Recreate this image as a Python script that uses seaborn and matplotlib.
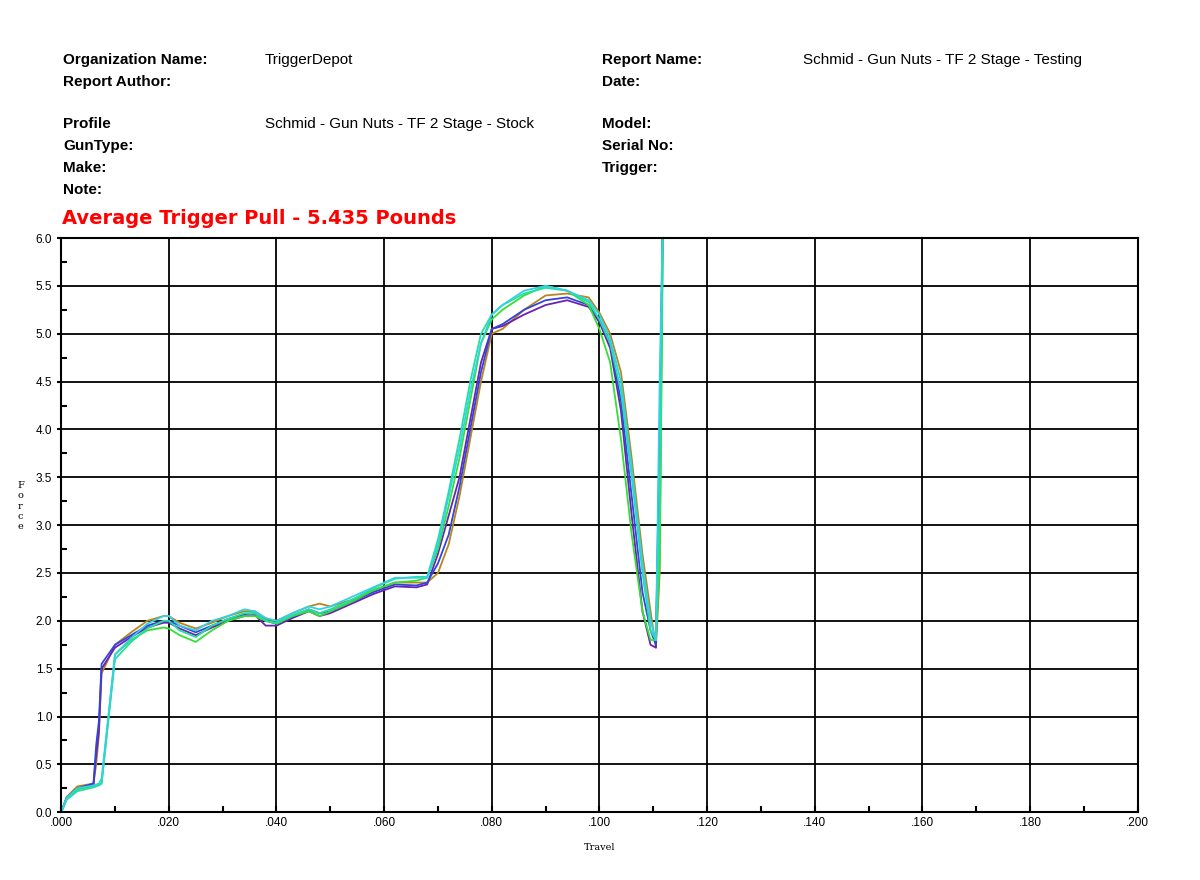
import numpy as np
import pandas as pd
import matplotlib.pyplot as plt
from matplotlib.ticker import MultipleLocator, FuncFormatter
import seaborn as sns

# shared travel grid (inches)
travel = [0, .001, .003, .006, .0065, .007, .0075, .010, .013, .016,
          .019, .020, .022, .025, .028, .031, .034, .036, .038, .040,
          .043, .046, .048, .050, .054, .058, .062, .066, .068, .070,
          .072, .074, .076, .078, .080, .082, .086, .090, .094, .098,
          .100, .102, .104, .106, .108, .1095, .1105, .1112, .1118]

pull_blue = [0, .15, .25, .3, .7, .95, 1.55, 1.75, 1.85, 1.95, 2.0, 2.0, 1.95, 1.88, 1.95, 2.02, 2.07, 2.08, 2.0, 1.97,
             2.05, 2.12, 2.08, 2.1, 2.2, 2.3, 2.38, 2.37, 2.4, 2.6, 2.9, 3.4, 4.0, 4.6, 5.05, 5.1, 5.25, 5.35, 5.38, 5.3,
             5.15, 4.9, 4.3, 3.3, 2.3, 1.9, 1.75, 4.0, 6.3]
pull_purple = [0, .14, .24, .29, .6, .85, 1.5, 1.72, 1.83, 1.93, 1.98, 1.98, 1.92, 1.85, 1.93, 2.0, 2.05, 2.06, 1.95, 1.95,
               2.03, 2.1, 2.05, 2.08, 2.18, 2.28, 2.36, 2.35, 2.38, 2.7, 3.1, 3.5, 4.1, 4.7, 5.05, 5.08, 5.2, 5.3, 5.35, 5.28,
               5.12, 4.85, 4.2, 3.1, 2.1, 1.75, 1.72, 3.8, 6.3]
pull_brown = [0, .16, .27, .3, .5, .8, 1.45, 1.75, 1.88, 2.0, 2.05, 2.05, 1.98, 1.92, 1.98, 2.05, 2.1, 2.1, 2.02, 2.0,
              2.08, 2.15, 2.18, 2.15, 2.22, 2.32, 2.4, 2.4, 2.4, 2.5, 2.8, 3.3, 3.9, 4.5, 5.0, 5.05, 5.25, 5.4, 5.42, 5.38,
              5.22, 5.0, 4.6, 3.7, 2.7, 2.1, 1.72, 2.5, 6.3]
pull_green = [0, .14, .24, .27, .28, .29, .3, 1.65, 1.8, 1.9, 1.93, 1.92, 1.85, 1.78, 1.9, 2.0, 2.05, 2.05, 2.0, 1.97,
              2.05, 2.1, 2.05, 2.1, 2.2, 2.32, 2.4, 2.42, 2.45, 2.75, 3.2, 3.7, 4.3, 4.9, 5.15, 5.25, 5.4, 5.5, 5.45, 5.3,
              5.05, 4.7, 3.9, 2.9, 2.1, 1.8, 1.8, 2.6, 6.0]
pull_cyan = [0, .15, .25, .28, .29, .3, .35, 1.65, 1.82, 1.97, 2.05, 2.05, 1.95, 1.9, 2.0, 2.05, 2.12, 2.1, 2.03, 2.0,
             2.08, 2.15, 2.12, 2.15, 2.25, 2.35, 2.45, 2.45, 2.45, 2.8, 3.3, 3.8, 4.4, 4.9, 5.2, 5.3, 5.45, 5.5, 5.45, 5.35,
             5.2, 4.95, 4.5, 3.6, 2.6, 2.0, 1.8, 4.5, 6.3]
pull_teal = [0, .13, .22, .26, .27, .28, .3, 1.6, 1.78, 1.92, 2.0, 2.0, 1.9, 1.83, 1.95, 2.02, 2.08, 2.08, 2.0, 1.98,
             2.06, 2.12, 2.08, 2.12, 2.22, 2.34, 2.44, 2.46, 2.46, 2.85, 3.35, 3.9, 4.5, 5.0, 5.2, 5.3, 5.42, 5.48, 5.45, 5.33,
             5.15, 4.9, 4.4, 3.5, 2.5, 1.9, 1.8, 3.2, 6.2]

pulls = {'brown': pull_brown, 'purple': pull_purple, 'blue': pull_blue,
         'green': pull_green, 'teal': pull_teal, 'cyan': pull_cyan}
colors = {'brown': '#b8861b', 'purple': '#6a22b0', 'blue': '#3344dd',
          'green': '#33e033', 'teal': '#22e0a0', 'cyan': '#33d0e8'}

df = pd.concat([pd.DataFrame({'travel': travel, 'force': v, 'pull': k}) for k, v in pulls.items()],
               ignore_index=True)

fig = plt.figure(figsize=(12, 8.8), dpi=100)
ax = fig.add_axes([0.051, 0.077, 0.897, 0.6525])
sns.lineplot(data=df, x='travel', y='force', hue='pull', palette=colors, sort=False,
             estimator=None, lw=1.3, legend=False, ax=ax)

ax.set_xlim(0, 0.2)
ax.set_ylim(0, 6)
ax.xaxis.set_major_locator(MultipleLocator(0.02))
ax.xaxis.set_minor_locator(MultipleLocator(0.01))
ax.yaxis.set_major_locator(MultipleLocator(0.5))
ax.yaxis.set_minor_locator(MultipleLocator(0.25))
ax.xaxis.set_major_formatter(FuncFormatter(lambda v, p: f'{v:.3f}'.lstrip('0')))
ax.yaxis.set_major_formatter(FuncFormatter(lambda v, p: f'{v:.1f}'))
ax.grid(True, which='major', color='black', lw=1.3)
ax.tick_params(which='both', direction='in', labelsize=8.5, length=4, width=1.5)
ax.tick_params(axis='y', which='major', direction='out', length=3)
for lab in ax.get_xticklabels() + ax.get_yticklabels():
    lab.set_family('Liberation Sans')
for s in ax.spines.values():
    s.set_linewidth(1.5)
ax.set_xlabel('Travel', family='DejaVu Serif', fontsize=7, labelpad=10)
ax.set_ylabel('')
fig.text(0.017, 0.425, 'F\no\nr\nc\ne', family='DejaVu Serif', fontsize=7,
         ha='center', va='center', linespacing=1.2)

# report header
bold = dict(fontsize=11, fontweight='bold', family='Liberation Sans', va='center')
norm = dict(fontsize=11, family='Liberation Sans', va='center')
W, H = 1200, 880
for lbl, y in [('Organization Name:', 60), ('Report Author:', 82), ('Profile', 124),
               ('GunType:', 146), ('Make:', 168), ('Note:', 190)]:
    fig.text(63 / W, 1 - y / H, lbl, **bold)
for lbl, y in [('Report Name:', 60), ('Date:', 82), ('Model:', 124),
               ('Serial No:', 146), ('Trigger:', 168)]:
    fig.text(602 / W, 1 - y / H, lbl, **bold)
fig.text(265 / W, 1 - 60 / H, 'TriggerDepot', **norm)
fig.text(265 / W, 1 - 124 / H, 'Schmid - Gun Nuts - TF 2 Stage - Stock', **norm)
fig.text(803 / W, 1 - 60 / H, 'Schmid - Gun Nuts - TF 2 Stage - Testing', **norm)
fig.text(62 / W, 1 - 218 / H, 'Average Trigger Pull - 5.435 Pounds', color='#ff0000',
         fontsize=14, fontweight='bold', family='DejaVu Sans', va='center')

fig.savefig('out.png', dpi=100, facecolor='white')
